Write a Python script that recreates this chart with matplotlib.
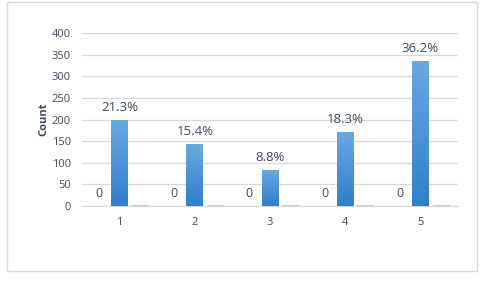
import matplotlib
matplotlib.use("Agg")
import matplotlib.pyplot as plt
import numpy as np
from matplotlib.patches import Rectangle

categories = ["1", "2", "3", "4", "5"]
series_zero = [0, 0, 0, 0, 0]
counts = [197, 142, 81, 169, 334]
percent_labels = ["21.3%", "15.4%", "8.8%", "18.3%", "36.2%"]
series_small = [2, 2, 2, 2, 2]

TEXT = "#3f4b5c"
GRID = "#d9d9d9"

plt.rcParams["font.family"] = ["Open Sans", "DejaVu Sans"]

fig = plt.figure(figsize=(4.88, 2.81), dpi=100)
fig.patch.set_facecolor("white")
fig.patches.append(Rectangle((7 / 488, 1 - 271 / 281), 470 / 488, 269 / 281,
                             transform=fig.transFigure, fill=False,
                             edgecolor=GRID, linewidth=1))

ax = fig.add_axes([82 / 488, 1 - 206 / 281, 376 / 488, 173 / 281])
x = np.arange(1, len(categories) + 1)
w = 0.226
off = 0.275

ax.bar(x - off, series_zero, w, color="#5b9bd5")
bars = ax.bar(x, counts, w, color="#3d8bd8", zorder=2)
ax.bar(x + off, series_small, w, color="#b4c8e4", zorder=2)

# vertical gradient inside the main bars
grad = np.linspace(0, 1, 256).reshape(-1, 1)
cmap = matplotlib.colors.LinearSegmentedColormap.from_list("g", ["#2f7fcb", "#6aa8e2"])
for b in bars:
    ax.imshow(grad, cmap=cmap, origin="lower", aspect="auto", zorder=3,
              extent=[b.get_x(), b.get_x() + b.get_width(), 0, b.get_height()])

for xi, v in zip(x, series_zero):
    ax.annotate(str(v), (xi - off, v), xytext=(0, 4), textcoords="offset points",
                ha="center", va="bottom", fontsize=9, color=TEXT)
for xi, v, lab in zip(x, counts, percent_labels):
    ax.annotate(lab, (xi, v), xytext=(0, 5), textcoords="offset points",
                ha="center", va="bottom", fontsize=9.5, color=TEXT)

ax.set_xlim(0.5, 5.5)
ax.set_ylim(0, 400)
ax.set_yticks(range(0, 401, 50))
ax.set_xticks(x)
ax.set_xticklabels(categories)
ax.yaxis.grid(True, color=GRID, linewidth=0.9, zorder=0)
ax.set_axisbelow(True)
for s in ["top", "right", "left"]:
    ax.spines[s].set_visible(False)
ax.spines["bottom"].set_color(GRID)
ax.tick_params(length=0, labelsize=8, colors=TEXT)
ax.tick_params(axis="x", pad=8)
ax.tick_params(axis="y", pad=8)
ax.set_ylabel("Count", fontsize=8, fontweight="bold", color=TEXT, labelpad=2)

fig.savefig("out.png", dpi=100)
